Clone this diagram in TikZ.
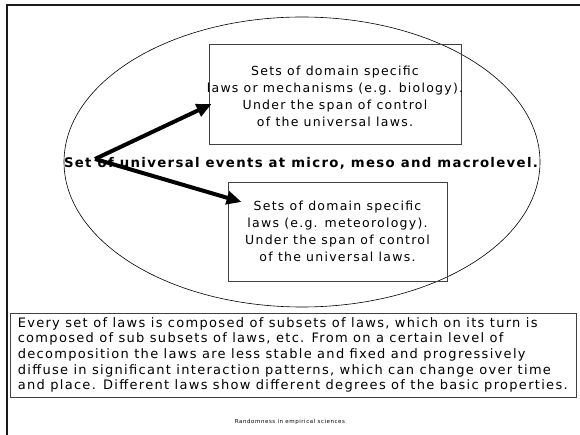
\documentclass[tikz,border=0pt]{standalone}
\usepackage{fontspec}
\setmainfont[LetterSpace=10]{DejaVu Sans}
\usetikzlibrary{arrows.meta,calc,shapes.geometric}
\begin{document}
\begin{tikzpicture}[x=1pt,y=-1pt,
  lawframe/.style={draw=black!75,line width=0.8pt,inner sep=0pt},
  lawtext/.style={inner sep=0pt,align=center,font=\fontsize{12.5}{17}\selectfont},
  bigarrow/.style={line width=4pt,-{Triangle[length=15pt,width=13pt]}},
  frameline/.style={line width=2.6pt,black!90}]
\useasboundingbox (0,0) rectangle (580,435);
\draw[frameline] (7,435) -- (7,5) -- (581,5);
\node[draw,ellipse,line width=0.6pt,inner sep=0pt,minimum width=476pt,minimum height=290pt] (ell) at (302,162) {};
\node[lawframe,minimum width=252pt,minimum height=100pt] (top) at (335,94) {};
\node[lawtext] (toptext) at ($(top.center)+(0,2)$)
  {Sets of domain specific\\laws or mechanisms (e.g. biology).\\Under the span of control\\of the universal laws.};
\node[lawframe,minimum width=219pt,minimum height=99pt] (bot) at (337.5,231.5) {};
\node[lawtext] (bottext) at (bot.center)
  {Sets of domain specific\\laws (e.g. meteorology).\\Under the span of control\\of the universal laws.};
\node[font=\bfseries\fontsize{13.3}{16}\selectfont,inner sep=0pt] (mid) at (301,163)
  {Set of universal events at micro, meso and macrolevel.};
\node[lawframe,minimum width=566pt,minimum height=84pt] (note) at (293,355) {};
\node[anchor=west,align=left,inner sep=0pt,font=\fontsize{13}{15.6}\selectfont] (notetext) at ($(note.west)+(8,0)$)
  {Every set of laws is composed of subsets of laws, which on its turn is\\
   composed of sub subsets of laws, etc. From on a certain level of\\
   decomposition the laws are less stable and fixed and progressively\\
   diffuse in significant interaction patterns, which can change over time\\
   and place. Different laws show different degrees of the basic properties.};
\node[font=\fontsize{5.5}{6}\selectfont,inner sep=0pt] (foot) at (290,422) {Randomness in empirical sciences};
\coordinate (src) at (95,159);
\coordinate (toptip) at ($(top.west)+(3,10)$);
\coordinate (bottip) at ($(bot.west)+(14,-29.5)$);
\draw[bigarrow] (src) -- (toptip);
\draw[bigarrow] (src) -- (bottip);
\end{tikzpicture}
\end{document}
